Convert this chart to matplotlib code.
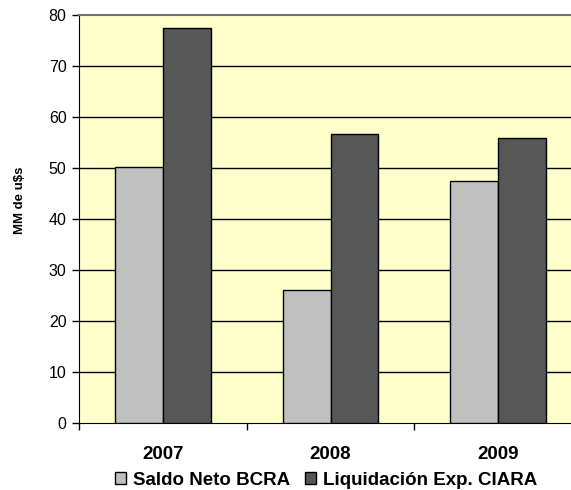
import numpy as np
import matplotlib.pyplot as plt

# Data (MM de u$s)
years = ['2007', '2008', '2009']
saldo_bcra = [50.2, 26.1, 47.4]
liquidacion_ciara = [77.4, 56.6, 55.9]

plt.rcParams['font.family'] = ['Liberation Sans', 'DejaVu Sans']

fig = plt.figure(figsize=(5.71, 4.90), dpi=100)
ax = fig.add_axes([0.1384, 0.1361, 0.8809, 0.8343])
ax.set_facecolor('#FFFFCC')

x = np.arange(len(years))
w = 0.286
ax.bar(x - w / 2, saldo_bcra, w, color='#C0C0C0', edgecolor='black',
       linewidth=1, zorder=3, label='Saldo Neto BCRA')
ax.bar(x + w / 2, liquidacion_ciara, w, color='#575757', edgecolor='black',
       linewidth=1, zorder=3, label='Liquidación Exp. CIARA')

# Axes limits and ticks
ax.set_xlim(-0.5, 2.5)
ax.set_ylim(0, 80)
ax.set_yticks(range(0, 81, 10))
ax.set_xticks(x)
ax.set_xticklabels(years, fontsize=13.5, fontweight='bold')
ax.set_xticks([-0.5, 0.5, 1.5], minor=True)
ax.tick_params(axis='x', which='major', length=0, pad=16)
ax.tick_params(axis='x', which='minor', length=5, width=1, direction='out')
ax.tick_params(axis='y', length=5, width=1, pad=4, labelsize=11.5)

# Horizontal grid
for v in range(10, 80, 10):
    ax.axhline(v, color='black', linewidth=1, zorder=1)

ax.spines['right'].set_visible(False)
ax.spines['top'].set_color('#707070')
ax.spines['top'].set_linewidth(1.5)
ax.spines['left'].set_color('black')
ax.spines['bottom'].set_color('black')

fig.text(20 / 571, 1 - 200 / 490, 'MM de u$s', rotation=90, ha='center',
         va='center', fontsize=9.5, fontweight='bold')

fig.legend(loc='center', bbox_to_anchor=(326 / 571, 1 - 480 / 490),
           ncol=2, frameon=False, prop={'size': 13.5, 'weight': 'bold'},
           handlelength=0.6, handleheight=0.6, handletextpad=0.35,
           columnspacing=0.8, borderpad=0, borderaxespad=0)

fig.savefig('out.png', dpi=100)
